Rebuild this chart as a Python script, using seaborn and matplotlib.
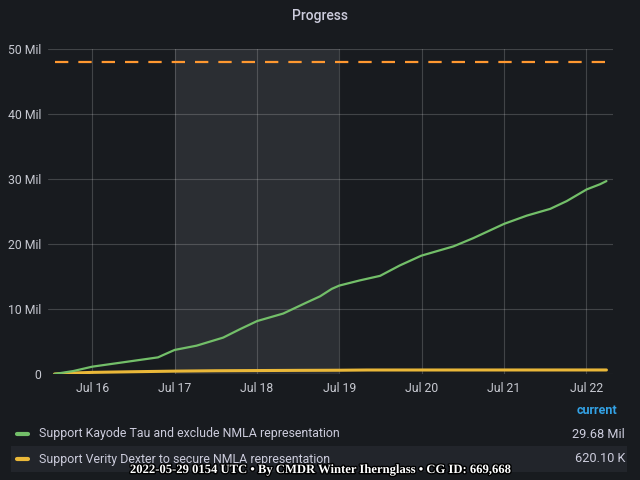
import matplotlib
matplotlib.use("Agg")
import matplotlib.pyplot as plt
import matplotlib.dates as mdates
import matplotlib.patheffects as pe
from matplotlib.patches import Rectangle
from matplotlib.lines import Line2D
import pandas as pd
import seaborn as sns

# data (values in millions)
tau_times = ["2022-07-15 13:00", "2022-07-15 18:30", "2022-07-16 00:00", "2022-07-16 09:00",
             "2022-07-16 19:10", "2022-07-16 20:35", "2022-07-17 00:00", "2022-07-17 06:25",
             "2022-07-17 14:10", "2022-07-17 19:05", "2022-07-18 00:05", "2022-07-18 07:40",
             "2022-07-18 14:30", "2022-07-18 18:25", "2022-07-18 21:50", "2022-07-19 00:00",
             "2022-07-19 06:00", "2022-07-19 11:55", "2022-07-19 17:40", "2022-07-19 23:55",
             "2022-07-20 09:20", "2022-07-20 15:05", "2022-07-21 00:05", "2022-07-21 06:40",
             "2022-07-21 13:30", "2022-07-21 18:20", "2022-07-22 00:10", "2022-07-22 04:05",
             "2022-07-22 05:55"]
tau_values = [0.0, 0.46, 1.13, 1.8, 2.56, 2.9, 3.7, 4.36, 5.6, 6.9, 8.15, 9.3, 11.0, 11.95,
              13.1, 13.6, 14.4, 15.1, 16.7, 18.2, 19.64, 20.9, 23.1, 24.36, 25.4, 26.6,
              28.4, 29.2, 29.68]

dexter_times = ["2022-07-15 13:00", "2022-07-15 18:30", "2022-07-16 00:00", "2022-07-16 12:00",
                "2022-07-17 00:00", "2022-07-17 12:00", "2022-07-18 00:00", "2022-07-18 12:00",
                "2022-07-19 00:00", "2022-07-19 08:00", "2022-07-22 05:55"]
dexter_values = [0.0, 0.15, 0.25, 0.35, 0.44, 0.5, 0.53, 0.56, 0.58, 0.615, 0.6201]

goal_times = ["2022-07-15 13:00", "2022-07-22 08:00"]
goal_values = [48, 48]

region = ("2022-07-17 00:00", "2022-07-19 00:00")
x_range = ("2022-07-15 11:05", "2022-07-22 07:50")

series_names = ["Support Kayode Tau and exclude NMLA representation",
                "Support Verity Dexter to secure NMLA representation"]
current_labels = ["29.68 Mil", "620.10 K"]
footer = "2022-05-29 0154 UTC \u2022 By CMDR Winter Ihernglass \u2022 CG ID: 669,668"

bg = "#181b1f"
txt = "#ccccdc"
green = "#73bf69"
yellow = "#eab839"
orange = "#ff9830"

sns.set_theme(style="dark", rc={"axes.facecolor": bg, "figure.facecolor": bg,
                                "text.color": txt, "xtick.color": txt, "ytick.color": txt})
plt.rcParams["font.family"] = ["Roboto", "DejaVu Sans"]

tau = pd.DataFrame({"time": pd.to_datetime(tau_times), "value": tau_values})
dexter = pd.DataFrame({"time": pd.to_datetime(dexter_times), "value": dexter_values})
goal = pd.DataFrame({"time": pd.to_datetime(goal_times), "value": goal_values})

fig = plt.figure(figsize=(6.4, 4.8), dpi=100)
ax = fig.add_axes([48 / 640, 1 - 374 / 480, 565 / 640, 325 / 480])

ax.axvspan(pd.Timestamp(region[0]), pd.Timestamp(region[1]), color="#2b2e33", zorder=0.2, lw=0)
sns.lineplot(data=goal, x="time", y="value", ax=ax, color=orange, lw=1.6)
ax.lines[-1].set_dashes((6, 4.5))
sns.lineplot(data=dexter, x="time", y="value", ax=ax, color=yellow, lw=2.2)
sns.lineplot(data=tau, x="time", y="value", ax=ax, color=green, lw=1.6)

ax.set_xlim(pd.Timestamp(x_range[0]), pd.Timestamp(x_range[1]))
ax.set_ylim(0, 50)
ax.set_yticks([0, 10, 20, 30, 40, 50])
ax.yaxis.set_major_formatter(lambda v, p: "0" if v == 0 else f"{int(v)} Mil")
ax.xaxis.set_major_locator(mdates.DayLocator())
ax.xaxis.set_major_formatter(mdates.DateFormatter("%b %d"))
ax.set_xlabel("")
ax.set_ylabel("")
ax.grid(True, color="#ffffff", alpha=0.18, lw=0.8)
ax.set_axisbelow(True)
for s in ax.spines.values():
    s.set_visible(False)
ax.tick_params(axis="both", length=0, labelsize=8.8, colors="#c7c9d1")
ax.tick_params(axis="x", pad=6)
ax.tick_params(axis="y", pad=5)

fig.text(0.5, 1 - 16 / 480, "Progress", ha="center", va="center", fontsize=10,
         fontweight="medium", color=txt)

# legend table
fig.text(617 / 640, 1 - 410 / 480, "current", ha="right", va="center", fontsize=9,
         fontweight="bold", color="#33a2e5")
fig.add_artist(Rectangle((11 / 640, 1 - 472 / 480), 616 / 640, 26 / 480,
                         transform=fig.transFigure, color="#22252b", lw=0, zorder=0))
for i, (name, cur, col) in enumerate(zip(series_names, current_labels, [green, yellow])):
    y = 1 - (434 + 25 * i) / 480
    fig.add_artist(Line2D([16.5 / 640, 27.5 / 640], [y, y], transform=fig.transFigure,
                          color=col, lw=3, solid_capstyle="round"))
    fig.text(39 / 640, y, name, ha="left", va="center", fontsize=8.9, color=txt)
    fig.text(625 / 640, y, cur, ha="right", va="center", fontsize=9.2, color=txt)

fig.text(0.5, 1 - 470 / 480, footer, ha="center", va="center", fontsize=9.1,
         fontweight="bold", family=["Liberation Serif", "DejaVu Serif"], color="white",
         path_effects=[pe.withStroke(linewidth=2, foreground="black")])

fig.savefig("out.png", dpi=100, facecolor=bg)
